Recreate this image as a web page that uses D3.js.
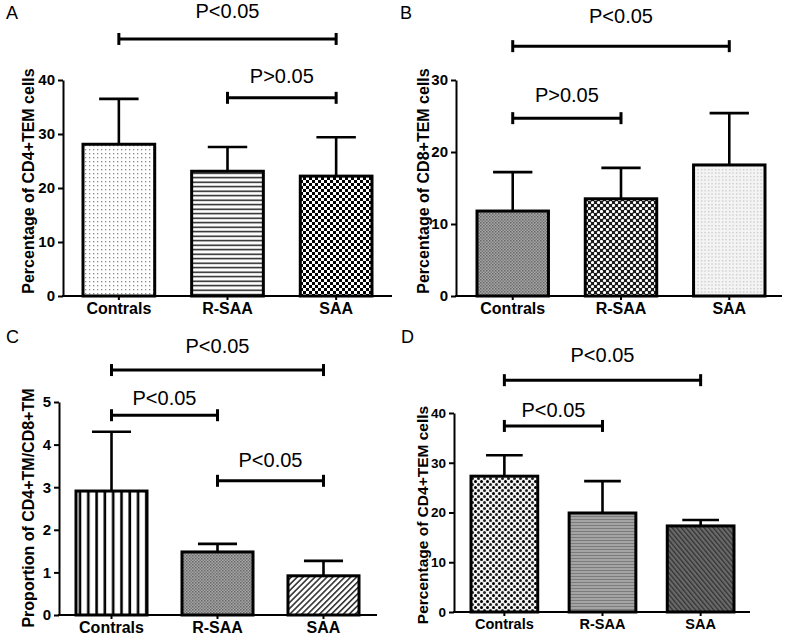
<!DOCTYPE html>
<html><head><meta charset="utf-8">
<script src="https://cdn.jsdelivr.net/npm/d3@7"></script>
<style>html,body{margin:0;padding:0;background:#fff}svg{display:block}</style>
</head><body>
<script>
// ---------- data ----------
const categories = ["Contrals", "R-SAA", "SAA"];

const aMeans = [28.1, 23.1, 22.2];
const aErr   = [8.4, 4.5, 7.2];
const aTicks = [0, 10, 20, 30, 40];
const aTickLabels = ["0", "10", "20", "30", "40"];
const aBrackets = [
  {from: "Contrals", to: "SAA", level: 47.6, labelLevel: 51.5, text: "P<0.05"},
  {from: "R-SAA", to: "SAA", level: 36.7, labelLevel: 39.4, text: "P>0.05"}
];

const bMeans = [11.8, 13.5, 18.2];
const bErr   = [5.4, 4.3, 7.2];
const bTicks = [0, 10, 20, 30];
const bTickLabels = ["0", "10", "20", "30"];
const bBrackets = [
  {from: "Contrals", to: "SAA", level: 34.7, labelLevel: 37.9, text: "P<0.05"},
  {from: "Contrals", to: "R-SAA", level: 24.7, labelLevel: 26.9, text: "P>0.05"}
];

const cMeans = [2.91, 1.48, 0.92];
const cErr   = [1.39, 0.19, 0.35];
const cTicks = [0, 1, 2, 3, 4, 5];
const cTickLabels = ["0", "1", "2", "3", "4", "5"];
const cBrackets = [
  {from: "Contrals", to: "SAA", level: 5.75, labelLevel: 6.15, text: "P<0.05"},
  {from: "Contrals", to: "R-SAA", level: 4.69, labelLevel: 4.93, text: "P<0.05"},
  {from: "R-SAA", to: "SAA", level: 3.15, labelLevel: 3.47, text: "P<0.05"}
];

const dMeans = [27.3, 19.9, 17.3];
const dErr   = [4.2, 6.4, 1.2];
const dTicks = [0, 10, 20, 30, 40];
const dTickLabels = ["0", "10", "20", "30", "40"];
const dBrackets = [
  {from: "Contrals", to: "SAA", level: 46.6, labelLevel: 50.3, text: "P<0.05"},
  {from: "Contrals", to: "R-SAA", level: 37.4, labelLevel: 39.2, text: "P<0.05"}
];

// ---------- drawing ----------
const W = 790, H = 641;
const svg = d3.select("body").append("svg").attr("width", W).attr("height", H);
svg.append("rect").attr("width", W).attr("height", H).attr("fill", "#fff");
const defs = svg.append("defs");

function pat(id, w, h, build, rot) {
  const p = defs.append("pattern").attr("id", id).attr("patternUnits", "userSpaceOnUse")
    .attr("width", w).attr("height", h);
  if (rot) p.attr("patternTransform", "rotate(" + rot + ")");
  build(p);
}
pat("dotsGray", 4, 4, p => {
  p.append("rect").attr("width", 4).attr("height", 4).attr("fill", "#fff");
  p.append("rect").attr("x", 1).attr("y", 1).attr("width", 1.3).attr("height", 1.3).attr("fill", "#8a8a8a");
});
pat("dotsLight", 3.5, 3.5, p => {
  p.append("rect").attr("width", 3.5).attr("height", 3.5).attr("fill", "#f4f4f4");
  p.append("rect").attr("x", 1).attr("y", 1).attr("width", 1.2).attr("height", 1.2).attr("fill", "#b8b8b8");
});
pat("hLines", 4.5, 4.5, p => {
  p.append("rect").attr("width", 4.5).attr("height", 4.5).attr("fill", "#fff");
  p.append("rect").attr("y", 1.5).attr("width", 4.5).attr("height", 1.4).attr("fill", "#111");
});
pat("checker", 6, 6, p => {
  p.append("rect").attr("width", 6).attr("height", 6).attr("fill", "#fff");
  p.append("rect").attr("width", 3).attr("height", 3).attr("fill", "#000");
  p.append("rect").attr("x", 3).attr("y", 3).attr("width", 3).attr("height", 3).attr("fill", "#000");
});
pat("fineGray", 3, 3, p => {
  p.append("rect").attr("width", 3).attr("height", 3).attr("fill", "#a8a8a8");
  p.append("rect").attr("width", 1.5).attr("height", 1.5).attr("fill", "#666");
  p.append("rect").attr("x", 1.5).attr("y", 1.5).attr("width", 1.5).attr("height", 1.5).attr("fill", "#777");
});
pat("whiteDotsDark", 6, 6, p => {
  p.append("rect").attr("width", 6).attr("height", 6).attr("fill", "#1a1a1a");
  p.append("circle").attr("cx", 1.5).attr("cy", 1.5).attr("r", 1.6).attr("fill", "#fff");
  p.append("circle").attr("cx", 4.5).attr("cy", 4.5).attr("r", 1.6).attr("fill", "#fff");
});
pat("vLines", 8.3, 8.3, p => {
  p.append("rect").attr("width", 8.3).attr("height", 8.3).attr("fill", "#fff");
  p.append("rect").attr("x", 4).attr("width", 2.6).attr("height", 8.3).attr("fill", "#000");
});
pat("diag", 4.2, 4.2, p => {
  p.append("rect").attr("width", 4.2).attr("height", 4.2).attr("fill", "#fff");
  p.append("rect").attr("width", 1.6).attr("height", 4.2).attr("fill", "#333");
}, 45);
pat("dotGrid", 6, 6, p => {
  p.append("rect").attr("width", 6).attr("height", 6).attr("fill", "#f2f2f2");
  p.append("circle").attr("cx", 1.5).attr("cy", 1.5).attr("r", 1.5).attr("fill", "#000");
  p.append("circle").attr("cx", 4.5).attr("cy", 4.5).attr("r", 1.5).attr("fill", "#222");
});
pat("hGray", 3, 3, p => {
  p.append("rect").attr("width", 3).attr("height", 3).attr("fill", "#a4a4a4");
  p.append("rect").attr("width", 3).attr("height", 1).attr("fill", "#7c7c7c");
});
pat("darkDiag", 3.5, 3.5, p => {
  p.append("rect").attr("width", 3.5).attr("height", 3.5).attr("fill", "#6a6a6a");
  p.append("rect").attr("width", 1.3).attr("height", 3.5).attr("fill", "#333");
}, -40);

const panels = [
  {letter: "A", means: aMeans, errs: aErr, ticks: aTicks, tickLabels: aTickLabels, brackets: aBrackets,
   ylabel: "Percentage of CD4+TEM cells", fills: ["dotsGray", "hLines", "checker"],
   L: {axisX: 63, right: 392, b0: 83, b1: 372, pad: 0.34, yBot: 296, yTop: 80,
       letterX: 6, letterY: 19, ylabX: 34, ylabY: 181, tickFont: 15, ylabFont: 16, xFont: 16}},
  {letter: "B", means: bMeans, errs: bErr, ticks: bTicks, tickLabels: bTickLabels, brackets: bBrackets,
   ylabel: "Percentage of CD8+TEM cells", fills: ["fineGray", "whiteDotsDark", "dotsLight"],
   L: {axisX: 456, right: 782, b0: 477, b1: 765, pad: 0.34, yBot: 296, yTop: 80,
       letterX: 400, letterY: 19, ylabX: 429, ylabY: 181, tickFont: 15, ylabFont: 16, xFont: 16}},
  {letter: "C", means: cMeans, errs: cErr, ticks: cTicks, tickLabels: cTickLabels, brackets: cBrackets,
   ylabel: "Proportion of CD4+TM/CD8+TM", fills: ["vLines", "fineGray", "diag"],
   L: {axisX: 59, right: 377, b0: 76, b1: 359, pad: 0.33, yBot: 615, yTop: 402,
       letterX: 6, letterY: 343, ylabX: 34, ylabY: 508, tickFont: 15, ylabFont: 16, xFont: 16}},
  {letter: "D", means: dMeans, errs: dErr, ticks: dTicks, tickLabels: dTickLabels, brackets: dBrackets,
   ylabel: "Percentage of CD4+TEM cells", fills: ["dotGrid", "hGray", "darkDiag"],
   L: {axisX: 454, right: 750, b0: 471, b1: 734, pad: 0.32, yBot: 612, yTop: 413,
       letterX: 401, letterY: 343, ylabX: 428, ylabY: 515, tickFont: 13.5, ylabFont: 15.5, xFont: 14.5}}
];

const FONT = "'Liberation Sans', Arial, sans-serif";

panels.forEach(P => {
  const L = P.L;
  const g = svg.append("g");
  const x = d3.scaleBand().domain(categories).range([L.b0, L.b1]).paddingInner(L.pad).paddingOuter(0);
  const maxT = d3.max(P.ticks);
  const y = d3.scaleLinear().domain([0, maxT]).range([L.yBot, L.yTop]);
  const rows = categories.map((c, i) => ({c, m: P.means[i], e: P.errs[i], fill: P.fills[i]}));

  // error bars
  const capW = x.bandwidth() * 0.55;
  rows.forEach(r => {
    const cx = x(r.c) + x.bandwidth() / 2;
    g.append("line").attr("x1", cx).attr("x2", cx).attr("y1", y(r.m)).attr("y2", y(r.m + r.e))
      .attr("stroke", "#000").attr("stroke-width", 2.6);
    g.append("line").attr("x1", cx - capW / 2).attr("x2", cx + capW / 2)
      .attr("y1", y(r.m + r.e)).attr("y2", y(r.m + r.e))
      .attr("stroke", "#000").attr("stroke-width", 2.6);
  });

  // bars
  g.selectAll("rect.bar").data(rows).join("rect").attr("class", "bar")
    .attr("x", d => x(d.c)).attr("width", x.bandwidth())
    .attr("y", d => y(d.m)).attr("height", d => y(0) - y(d.m))
    .attr("fill", d => "url(#" + d.fill + ")")
    .attr("stroke", "#000").attr("stroke-width", 3);

  // y axis
  const ya = g.append("g").attr("transform", "translate(" + L.axisX + ",0)")
    .call(d3.axisLeft(y).tickValues(P.ticks)
      .tickFormat((d, i) => P.tickLabels[i])
      .tickSize(5).tickSizeOuter(0).tickPadding(3));
  ya.select(".domain").attr("stroke", "#000").attr("stroke-width", 2);
  ya.selectAll(".tick line").attr("stroke", "#000").attr("stroke-width", 2);
  ya.selectAll(".tick text").attr("font-family", FONT).attr("font-weight", "bold")
    .attr("font-size", L.tickFont).attr("fill", "#000");

  // x axis
  g.append("line").attr("x1", L.axisX - 1).attr("x2", L.right).attr("y1", y(0)).attr("y2", y(0))
    .attr("stroke", "#000").attr("stroke-width", 2);
  const xa = g.append("g").attr("transform", "translate(0," + y(0) + ")")
    .call(d3.axisBottom(x).tickSize(4).tickSizeOuter(0).tickPadding(3));
  xa.select(".domain").remove();
  xa.selectAll(".tick line").attr("stroke", "#000").attr("stroke-width", 2);
  xa.selectAll(".tick text").attr("font-family", FONT).attr("font-weight", "bold")
    .attr("font-size", L.xFont).attr("fill", "#000");

  // y label
  g.append("text").attr("transform", "translate(" + L.ylabX + "," + L.ylabY + ") rotate(-90)")
    .attr("text-anchor", "middle").attr("font-family", FONT).attr("font-weight", "bold")
    .attr("font-size", L.ylabFont).text(P.ylabel);

  // panel letter
  g.append("text").attr("x", L.letterX).attr("y", L.letterY).attr("font-family", FONT)
    .attr("font-size", 18).text(P.letter);

  // brackets
  P.brackets.forEach(b => {
    const xa1 = x(b.from) + x.bandwidth() / 2, xa2 = x(b.to) + x.bandwidth() / 2;
    const yy = y(b.level);
    g.append("line").attr("x1", xa1).attr("x2", xa2).attr("y1", yy).attr("y2", yy)
      .attr("stroke", "#000").attr("stroke-width", 3);
    [xa1, xa2].forEach(xx => g.append("line").attr("x1", xx).attr("x2", xx)
      .attr("y1", yy - 6).attr("y2", yy + 6).attr("stroke", "#000").attr("stroke-width", 3));
    g.append("text").attr("x", (xa1 + xa2) / 2).attr("y", y(b.labelLevel))
      .attr("text-anchor", "middle").attr("font-family", FONT).attr("font-size", 20)
      .text(b.text);
  });
});
</script>
</body></html>
